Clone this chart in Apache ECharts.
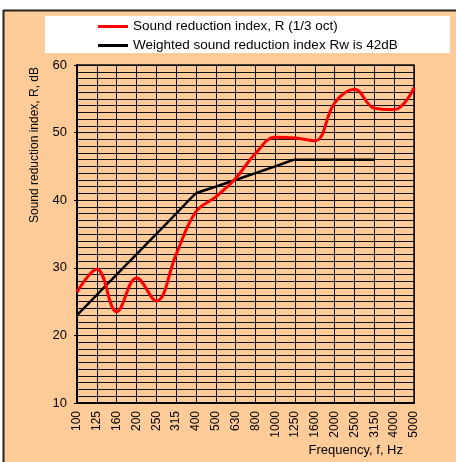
<!DOCTYPE html>
<html>
<head>
<meta charset="utf-8">
<script src="https://cdn.jsdelivr.net/npm/echarts@6/dist/echarts.min.js"></script>
<style>
  html, body { margin: 0; padding: 0; background: #fff; }
  #chart { width: 456px; height: 462px; }
</style>
</head>
<body>
<div id="chart"></div>
<script>
// third-octave bands, Hz
const freqs = ['100', '125', '160', '200', '250', '315', '400', '500', '630', '800',
  '1000', '1250', '1600', '2000', '2500', '3150', '4000', '5000']
// measured R, dB
const soundReduction = [26.4, 29.8, 23.5, 28.5, 25.1, 32.0, 38.3, 40.5, 43.2, 46.9,
  49.3, 49.2, 48.8, 54.4, 56.4, 53.6, 53.4, 56.6]
// shifted reference curve (Rw = 42 dB), 100..3150 Hz
const weightedRef = [23, 26, 29, 32, 35, 38, 41, 42, 43, 44, 45, 46, 46, 46, 46, 46]

const peach = '#ffcc99'
const font = 'Liberation Sans, Arial, sans-serif'

const chart = echarts.init(document.getElementById('chart'))

chart.setOption({
  backgroundColor: '#fff',
  animation: false,
  textStyle: { fontFamily: font, color: '#000' },
  graphic: [
    {
      type: 'rect',
      z: -10,
      shape: { x: 3.5, y: 10.5, width: 460, height: 460 },
      style: { fill: peach, stroke: '#222', lineWidth: 2 }
    },
    {
      type: 'rect',
      z: -9,
      shape: { x: 45, y: 16, width: 405, height: 37 },
      style: { fill: '#fff' }
    },
    {
      type: 'text',
      x: 35,
      y: 145,
      rotation: Math.PI / 2,
      style: {
        text: 'Sound reduction index, R, dB',
        font: '12px ' + font,
        fill: '#000',
        align: 'center',
        verticalAlign: 'middle'
      }
    },
    {
      type: 'text',
      x: 403,
      y: 450,
      style: {
        text: 'Frequency, f, Hz',
        font: '13px ' + font,
        fill: '#000',
        align: 'right',
        verticalAlign: 'middle'
      }
    }
  ],
  legend: {
    orient: 'vertical',
    left: 93,
    top: 13,
    itemWidth: 30,
    itemHeight: 3,
    itemGap: 2,
    icon: 'rect',
    textStyle: { fontSize: 13.5, lineHeight: 17, color: '#000', fontFamily: font },
    data: ['Sound reduction index, R (1/3 oct)', 'Weighted sound reduction index Rw is 42dB']
  },
  grid: {
    left: 77,
    right: 42,
    top: 65,
    bottom: 59,
    show: true,
    borderColor: '#111',
    borderWidth: 1.5
  },
  xAxis: {
    type: 'category',
    data: freqs,
    boundaryGap: false,
    axisLine: { lineStyle: { color: '#000', width: 2 } },
    axisTick: { show: true, inside: true, length: 3, lineStyle: { color: '#000' } },
    axisLabel: { rotate: 90, fontSize: 12, color: '#000', margin: 8, interval: 0 },
    splitLine: { show: true, interval: 0, lineStyle: { color: '#111', width: 1 } }
  },
  yAxis: {
    type: 'value',
    min: 10,
    max: 60,
    interval: 10,
    axisLine: { show: true, lineStyle: { color: '#000', width: 2 } },
    axisTick: { show: true, length: 3, lineStyle: { color: '#000' } },
    axisLabel: { fontSize: 13, color: '#000', margin: 10 },
    splitLine: { show: true, lineStyle: { color: '#111', width: 1 } },
    minorTick: { show: false, splitNumber: 10 },
    minorSplitLine: { show: true, lineStyle: { color: '#111', width: 1 } }
  },
  series: [
    {
      name: 'Sound reduction index, R (1/3 oct)',
      type: 'line',
      data: soundReduction,
      smooth: 0.4,
      symbol: 'none',
      z: 4,
      lineStyle: { color: '#ff0000', width: 3 },
      itemStyle: { color: '#ff0000' }
    },
    {
      name: 'Weighted sound reduction index Rw is 42dB',
      type: 'line',
      data: weightedRef,
      smooth: 0.15,
      symbol: 'none',
      z: 3,
      lineStyle: { color: '#000', width: 2.5 },
      itemStyle: { color: '#000' }
    }
  ]
})
</script>
</body>
</html>
